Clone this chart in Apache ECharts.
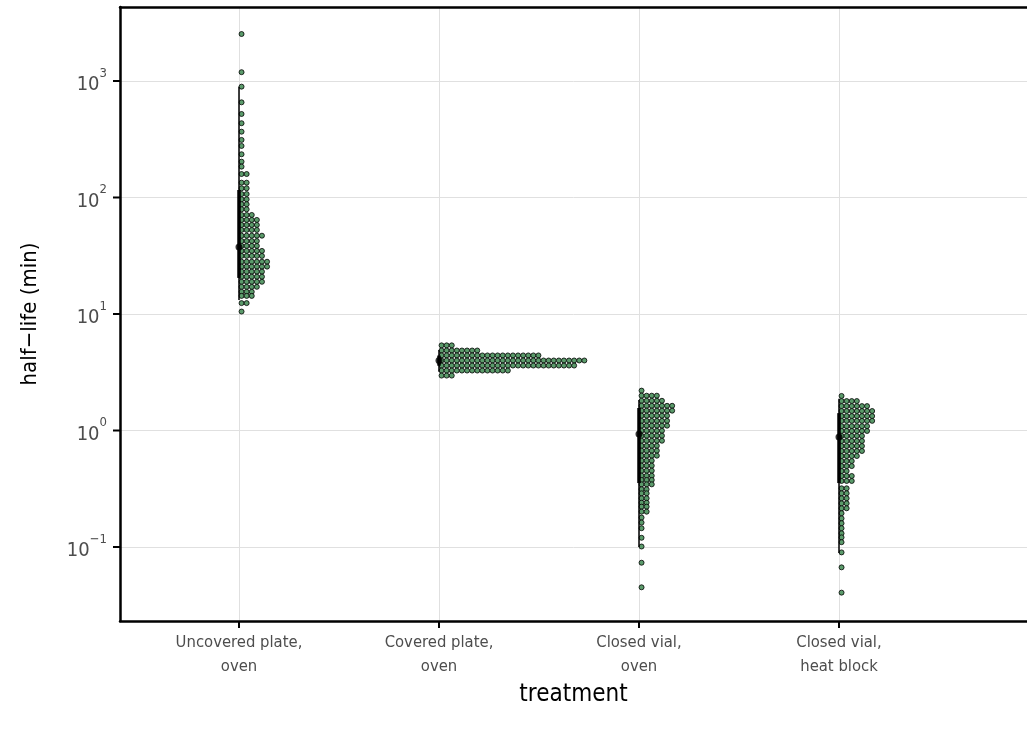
<!DOCTYPE html>
<html>
<head>
<meta charset="utf-8">
<title>half-life by treatment</title>
<script src="https://cdn.jsdelivr.net/npm/echarts@6.0.0/dist/echarts.min.js"></script>
<style>
  html, body { margin: 0; padding: 0; background: #fff; }
  #main { width: 1027px; height: 731px; }
</style>
</head>
<body>
<div id="main"></div>
<script>
// treatments on the x axis
var categories = ['Uncovered plate,\noven', 'Covered plate,\noven', 'Closed vial,\noven', 'Closed vial,\nheat block']

// dot rows: bin value (min) and how many dots sit in that row
var uncoveredBins = [2530, 1190, 894, 656, 521, 434, 367, 312, 277, 235, 203, 184,
  159, 134, 120, 107, 96.5, 87.5, 79.2, 70.8, 64.2, 58.1, 52.6, 47.0, 42.3, 38.4,
  34.8, 31.5, 28.1, 25.5, 23.1, 20.9, 18.9, 17.1, 15.5, 14.3, 12.4, 10.5]
var uncoveredCounts = [1, 1, 1, 1, 1, 1, 1, 1, 1, 1, 1, 1,
  2, 2, 2, 2, 2, 2, 2, 3, 4, 4, 4, 5, 4, 4,
  5, 5, 6, 6, 5, 5, 5, 4, 3, 3, 2, 1]

var coveredBins = [5.38, 4.86, 4.41, 3.99, 3.61, 3.27, 2.96]
var coveredCounts = [3, 8, 20, 29, 27, 14, 3]

var vialOvenBins = [2.20, 1.99, 1.80, 1.63, 1.48, 1.34, 1.21, 1.10, 0.995, 0.902, 0.817,
  0.739, 0.671, 0.608, 0.551, 0.499, 0.452, 0.409, 0.376, 0.345, 0.313, 0.289, 0.262,
  0.240, 0.222, 0.201, 0.179, 0.162, 0.145, 0.120, 0.101, 0.0733, 0.0451]
var vialOvenCounts = [1, 4, 5, 7, 7, 6, 6, 6, 5, 5, 5,
  4, 4, 4, 3, 3, 3, 3, 3, 3, 2, 2, 2,
  2, 2, 2, 1, 1, 1, 1, 1, 1, 1]

var vialBlockBins = [1.98, 1.79, 1.62, 1.47, 1.33, 1.21, 1.09, 0.991, 0.898, 0.813, 0.736,
  0.667, 0.604, 0.547, 0.495, 0.449, 0.407, 0.369, 0.319, 0.289, 0.262, 0.237, 0.215,
  0.195, 0.176, 0.160, 0.145, 0.131, 0.121, 0.110, 0.0899, 0.0669, 0.0406]
var vialBlockCounts = [1, 4, 6, 7, 7, 7, 6, 6, 5, 5, 5,
  5, 4, 3, 3, 2, 3, 3, 2, 2, 2, 2, 2,
  1, 1, 1, 1, 1, 1, 1, 1, 1, 1]

// point + interval (median, 66% and 95%)
var medians = [37.6, 3.99, 0.933, 0.879]
var low66 = [20.4, 3.6, 0.354, 0.354]
var high66 = [116, 4.4, 1.56, 1.41]
var low95 = [13.2, 3.2, 0.10, 0.089]
var high95 = [894, 4.9, 1.83, 1.87]

// tick positions: categories at 1..4, y in log10(minutes)
var xTicks = [1, 2, 3, 4]
var yTicks = [-1, 0, 1, 2, 3]

var chartDom = document.getElementById('main')
var myChart = echarts.init(chartDom)
var option

var xMin = 0.405
var xMax = 4.94
var yMin = -1.635
var yMax = 3.635
var dotStep = 0.0255 // horizontal distance between dots, in x units
var labelFont = "'Liberation Sans Narrow', 'DejaVu Sans Condensed', sans-serif"

function dotRows(catIndex, bins, counts) {
  var out = []
  for (var r = 0; r < bins.length; r++) {
    for (var i = 0; i < counts[r]; i++) {
      out.push([catIndex + 1 + (i + 0.5) * dotStep, Math.log10(bins[r])])
    }
  }
  return out
}

var dots = [].concat(
  dotRows(0, uncoveredBins, uncoveredCounts),
  dotRows(1, coveredBins, coveredCounts),
  dotRows(2, vialOvenBins, vialOvenCounts),
  dotRows(3, vialBlockBins, vialBlockCounts)
)

var intervals = categories.map(function(c, i) {
  return [i + 1, Math.log10(low95[i]), Math.log10(high95[i]), Math.log10(low66[i]), Math.log10(high66[i])]
})
var medianPts = medians.map(function(m, i) { return [i + 1, Math.log10(m)] })

var frame = { show: true, onZero: false, lineStyle: { color: '#000', width: 2.5 } }

// small outward tick marks, placed through the axes
function tickSeries(data, horizontal) {
  return {
    type: 'custom',
    silent: true,
    clip: false,
    data: data,
    encode: { x: 0, y: 1 },
    renderItem: function(params, api) {
      var p = api.coord([api.value(0), api.value(1)])
      var shape = horizontal
        ? { x1: p[0], y1: p[1], x2: p[0] - 7, y2: p[1] }
        : { x1: p[0], y1: p[1], x2: p[0], y2: p[1] + 7 }
      return { type: 'line', shape: shape, style: { stroke: '#000', lineWidth: 2 } }
    },
    z: 5
  }
}

option = {
  animation: false,
  backgroundColor: '#fff',
  grid: {
    left: 120,
    right: 0,
    top: 7,
    bottom: 110
  },
  xAxis: [
    {
      type: 'value',
      min: xMin,
      max: xMax,
      name: 'treatment',
      nameLocation: 'middle',
      nameGap: 62,
      nameMoveOverlap: false,
      nameTextStyle: { fontSize: 24, color: '#000', fontFamily: labelFont },
      axisLine: frame,
      axisTick: { show: false },
      axisLabel: {
        customValues: xTicks,
        formatter: function(v) { return categories[Math.round(v) - 1] },
        fontSize: 16.5,
        lineHeight: 24,
        margin: 10,
        color: '#4d4d4d',
        fontFamily: labelFont
      },
      splitLine: { show: true, lineStyle: { color: '#e0e0e0', width: 1 } }
    },
    {
      // top edge of the panel
      type: 'value',
      position: 'top',
      min: xMin,
      max: xMax,
      axisLine: frame,
      axisTick: { show: false },
      axisLabel: { show: false },
      splitLine: { show: false }
    }
  ],
  yAxis: {
    type: 'value',
    min: yMin,
    max: yMax,
    name: 'half\u2212life (min)',
    nameLocation: 'middle',
    nameGap: 79,
    nameMoveOverlap: false,
    nameRotate: 90,
    nameTextStyle: { fontSize: 22, color: '#000', fontFamily: labelFont },
    axisLine: frame,
    axisTick: { show: false },
    axisLabel: {
      customValues: yTicks,
      margin: 13,
      formatter: function(v) {
        var e = Math.round(v)
        return '{b|10}{s|' + (e < 0 ? '\u2212' + (-e) : e) + '}'
      },
      rich: {
        b: { fontSize: 20, color: '#4d4d4d', fontFamily: labelFont, lineHeight: 28, verticalAlign: 'bottom' },
        s: { fontSize: 13, color: '#4d4d4d', fontFamily: labelFont, lineHeight: 28, verticalAlign: 'top' }
      }
    },
    splitLine: { show: true, lineStyle: { color: '#e0e0e0', width: 1 } }
  },
  series: [
    {
      name: 'dots',
      type: 'scatter',
      data: dots,
      symbol: 'circle',
      symbolSize: 5,
      itemStyle: { color: '#5b9b6b', borderColor: '#000', borderWidth: 0.8, opacity: 1 },
      z: 2
    },
    {
      name: 'interval',
      type: 'custom',
      data: intervals,
      encode: { x: 0, y: [1, 2, 3, 4] },
      renderItem: function(params, api) {
        var x = api.value(0)
        var a = api.coord([x, api.value(1)])
        var b = api.coord([x, api.value(2)])
        var c = api.coord([x, api.value(3)])
        var d = api.coord([x, api.value(4)])
        return {
          type: 'group',
          children: [
            { type: 'line', shape: { x1: a[0], y1: a[1], x2: b[0], y2: b[1] }, style: { stroke: '#000', lineWidth: 1.5 } },
            { type: 'line', shape: { x1: c[0], y1: c[1], x2: d[0], y2: d[1] }, style: { stroke: '#000', lineWidth: 3.5 } }
          ]
        }
      },
      z: 3
    },
    {
      name: 'median',
      type: 'scatter',
      data: medianPts,
      symbolSize: 7,
      itemStyle: { color: '#000' },
      z: 4
    },
    tickSeries(xTicks.map(function(v) { return [v, yMin] }), false),
    tickSeries(yTicks.map(function(v) { return [xMin, v] }), true)
  ]
}

myChart.setOption(option)
</script>
</body>
</html>
